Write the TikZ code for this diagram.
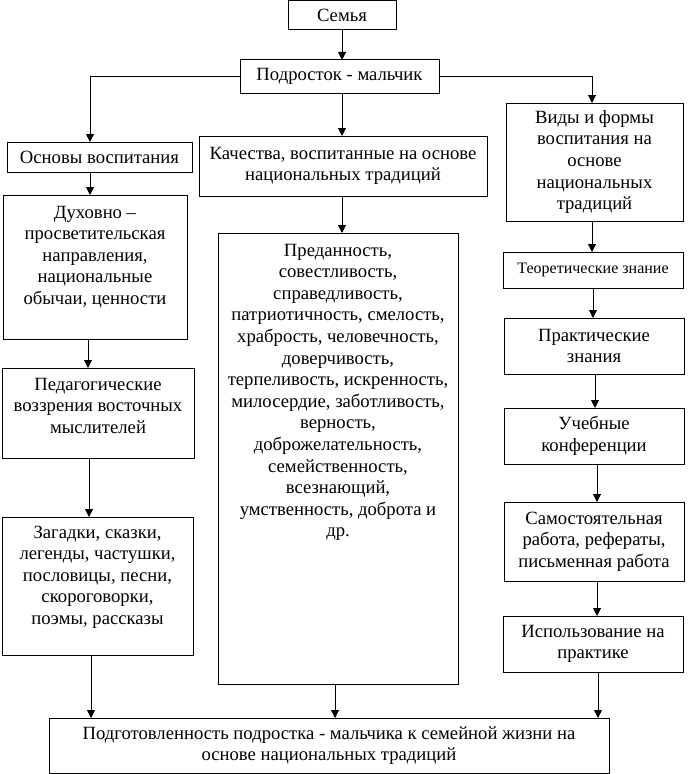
\documentclass[tikz,border=0pt]{standalone}
\usepackage{fontspec}
\setmainfont{Liberation Serif}
\usetikzlibrary{arrows.meta}
\newdimen\pxu \pxu=0.75pt
\newcommand\ctbox[3]{\parbox[c][#2\pxu][c]{#1\pxu}{\centering #3\par}}
\newcommand\tpbox[4]{\parbox[c][#2\pxu][t]{#1\pxu}{\centering\vspace*{#3\pxu}\strut #4\par}}
\begin{document}
\begin{tikzpicture}[x=0.75pt,y=-0.75pt,
  every node/.style={font=\fontsize{14}{16.2}\selectfont},
  box/.style={draw, line width=0.75pt, inner sep=0pt, outer sep=0pt, anchor=north west},
  arr/.style={draw, line width=0.75pt, -{Triangle[length=6pt,width=6pt]}}]
\useasboundingbox (0,0) rectangle (690,774);
% boxes
\node[box] (semya) at (288,1) {\ctbox{108}{29}{Семья}};
\node[box] (podr) at (240,60) {\ctbox{199}{33}{Подросток - мальчик}};
\node[box] (osn) at (7,142) {\ctbox{185}{30}{Основы воспитания}};
\node[box] (kach) at (199,136) {\ctbox{288}{60}{Качества, воспитанные на основе\\национальных традиций}};
\node[box] (vidy) at (506,103) {\ctbox{177}{118}{Виды и формы\\воспитания на\\основе\\национальных\\традиций}};
\node[box] (duh) at (3,195) {\tpbox{184}{144}{8}{Духовно –\\просветительская\\направления,\\национальные\\обычаи, ценности}};
\node[box] (ped) at (2,368) {\tpbox{192}{90}{7}{Педагогические\\воззрения восточных\\мыслителей}};
\node[box] (zag) at (2,517) {\tpbox{191}{138}{6}{Загадки, сказки,\\легенды, частушки,\\пословицы, песни,\\скороговорки,\\поэмы, рассказы}};
\node[box] (pred) at (218,233) {\tpbox{240}{451}{8}{Преданность,\\совестливость,\\справедливость,\\патриотичность, смелость,\\храбрость, человечность,\\доверчивость,\\терпеливость, искренность,\\милосердие, заботливость,\\верность,\\доброжелательность,\\семейственность,\\всезнающий,\\умственность, доброта и\\др.}};
\node[box] (teor) at (503,252) {\ctbox{180}{36}{\fontsize{12}{14}\selectfont Теоретические знание}};
\node[box] (prak) at (504,318) {\ctbox{180}{56}{Практические\\знания}};
\node[box] (ucheb) at (504,408) {\ctbox{180}{56}{Учебные\\конференции}};
\node[box] (samo) at (504,502) {\ctbox{180}{79}{Самостоятельная\\работа, рефераты,\\письменная работа}};
\node[box] (isp) at (503,616) {\ctbox{180}{56}{Использование на\\практике}};
\node[box] (fin) at (49,718) {\ctbox{560}{55}{Подготовленность подростка - мальчика к семейной жизни на\\основе национальных традиций}};
% vertical guide coordinates
\coordinate (xM) at (342,0);
\coordinate (xL) at (90,0);
\coordinate (xL2) at (88,0);
\coordinate (xL3) at (89,0);
\coordinate (xL4) at (91,0);
\coordinate (xP) at (335,0);
\coordinate (xR) at (592,0);
\coordinate (xR2) at (593,0);
\coordinate (xR3) at (595,0);
\coordinate (xR4) at (597,0);
\coordinate (xR5) at (598,0);
% connectors
\draw[arr] (semya.south -| xM) -- (podr.north -| xM);
\draw[arr] (podr.south -| xM) -- (kach.north -| xM);
\draw[arr] (kach.south -| xM) -- (pred.north -| xM);
\draw[arr] (podr.west) -| (osn.north -| xL);
\draw[arr] (podr.east) -| (vidy.north -| xR);
\draw[arr] (osn.south -| xL) -- (duh.north -| xL);
\draw[arr] (duh.south -| xL2) -- (ped.north -| xL2);
\draw[arr] (ped.south -| xL3) -- (zag.north -| xL3);
\draw[arr] (zag.south -| xL4) -- (fin.north -| xL4);
\draw[arr] (pred.south -| xP) -- (fin.north -| xP);
\draw[arr] (vidy.south -| xR) -- (teor.north -| xR);
\draw[arr] (teor.south -| xR2) -- (prak.north -| xR2);
\draw[arr] (prak.south -| xR3) -- (ucheb.north -| xR3);
\draw[arr] (ucheb.south -| xR4) -- (samo.north -| xR4);
\draw[arr] (samo.south -| xR4) -- (isp.north -| xR4);
\draw[arr] (isp.south -| xR5) -- (fin.north -| xR5);
\end{tikzpicture}
\end{document}
